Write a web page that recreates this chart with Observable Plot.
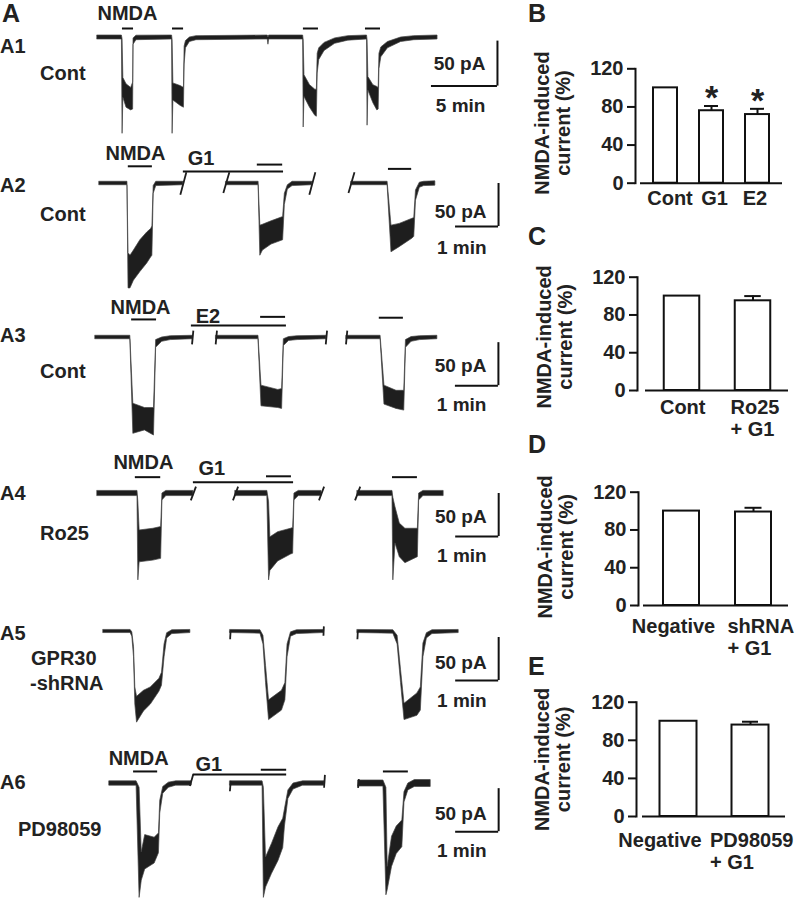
<!DOCTYPE html>
<html><head><meta charset="utf-8">
<script src="https://cdn.jsdelivr.net/npm/d3@7"></script>
<script src="https://cdn.jsdelivr.net/npm/@observablehq/plot@0.6"></script>
<style>
html,body{margin:0;padding:0;background:#fff;}
#fig{position:relative;width:795px;height:899px;overflow:hidden;font-family:"Liberation Sans",Arial,Helvetica,sans-serif;}
</style></head><body><div id="fig"></div>
<script>
// ================= DATA =================
// Traces: segments of [time (min), lower envelope (pA), upper envelope (pA)]
const a1Trace = [[
 [0,-2.2,2.2],[1.85,-2.2,2.2],[1.90,-107,-2],[1.96,-67,-45],[2.20,-78,-52],[2.55,-81,-56],[2.70,-80,-50],[2.73,-8,-1],[2.95,-3,2],
 [5.65,-2.2,2.2],[5.69,-107,-3],[5.75,-70,-51],[6.30,-76,-54],[6.55,-78,-56],[6.60,-30,-10],[6.70,-12,-4],[7.00,-5,0],[7.50,-3,1.5],
 [12.90,-2.2,2.2],[12.95,-8,0],[13.00,-2.2,2.2],
 [15.58,-2.2,2.2],[15.62,-100,-3],[15.68,-66,-42],[16.10,-78,-53],[16.50,-87,-58],[16.62,-88,-58],[16.68,-40,-18],[16.80,-25,-12],[17.20,-15,-6],[18.00,-7,-1],[19.00,-3.5,1.5],
 [20.42,-2.2,2.2],[20.46,-98,-3],[20.52,-59,-44],[20.90,-73,-53],[21.20,-81,-55],[21.30,-80,-56],[21.36,-35,-18],[21.50,-22,-11],[22.00,-12,-5],[23.00,-5,0],[24.00,-3,1.5],
 [25.76,-2.2,2.2]
]];
const a2Trace = [
 [[0,-2,2],[0.65,-2,2],[0.675,-122,-81],[0.72,-122,-84],[0.80,-113,-78],[0.95,-103,-66],[1.11,-93,-57],[1.20,-86,-53],[1.23,-84,-50],[1.26,-12,-3],[1.32,-3,2],[1.95,-2,2]],
 [[2.95,-2,2],[3.70,-2,2],[3.74,-84,-49],[3.80,-78,-48],[4.00,-71,-44],[4.27,-66,-39],[4.31,-25,-12],[4.38,-7,-2],[4.49,-3,2],[4.95,-2,2]],
 [[5.86,-2,2],[6.70,-2,2],[6.79,-80,-49],[6.98,-74,-47],[7.28,-64,-41],[7.32,-62,-40],[7.36,-20,-8],[7.45,-5,1],[7.55,-3,2],[7.81,-2.5,2.5]]
];
const a3Trace = [
 [[0,-2,2],[0.81,-2,2],[0.88,-112,-77],[1.15,-108,-82],[1.36,-114,-82],[1.41,-12,-3],[1.55,-5,0],[1.75,-3,1.5],[2.26,-2,2]],
 [[2.81,-2,2],[3.79,-2,2],[3.86,-80,-56],[4.25,-82,-61],[4.34,-83,-60],[4.38,-10,-2],[4.50,-4,0.5],[4.70,-3,1.5],[5.37,-2,2]],
 [[5.84,-2,2],[6.63,-2,2],[6.72,-78,-56],[7.00,-83,-62],[7.18,-85,-62],[7.22,-12,-3],[7.35,-5,0.5],[7.55,-3,1.5],[7.95,-2,2]]
];
const a4Trace = [
 [[0,-3,3],[0.93,-3,3],[0.95,-101,-10],[0.98,-80,-43],[1.30,-78,-41],[1.48,-76,-39],[1.51,-8,0],[1.60,-3,3],[2.23,-3,3]],
 [[3.21,-3,3],[3.95,-3,3],[3.99,-101,-10],[4.02,-90,-51],[4.20,-79,-45],[4.50,-71,-41],[4.55,-70,-40],[4.58,-8,0],[4.68,-3,3],[5.21,-3,3]],
 [[6.05,-3,3],[6.86,-3,3],[6.88,-101,-5],[6.93,-58,-16],[7.03,-74,-35],[7.16,-81,-41],[7.45,-74,-41],[7.48,-8,0],[7.58,-3,3],[8.05,-3,3]]
];
const a5Trace = [
 [[0,-1.8,1.8],[0.63,-1.8,1.8],[0.67,-6,-1],[0.71,-30,-18],[0.74,-85,-65],[0.78,-106,-76],[0.94,-93,-69],[1.10,-85,-65],[1.30,-70,-55],[1.36,-63,-48],[1.42,-30,-15],[1.48,-8,-2],[1.60,-3,1.5],[2.02,-1.8,1.8]],
 [[2.95,-1.8,1.8],[3.65,-2.5,1.5],[3.72,-15,-5],[3.78,-60,-40],[3.85,-103,-80],[4.15,-92,-69],[4.23,-80,-60],[4.28,-30,-15],[4.36,-6,-1],[4.50,-3,1.5],[5.12,-1.8,1.8]],
 [[5.91,-1.8,1.8],[6.74,-2.5,1.5],[6.84,-15,-5],[6.92,-60,-45],[7.00,-103,-84],[7.30,-98,-72],[7.38,-92,-65],[7.44,-30,-14],[7.52,-8,-2],[7.65,-3,1.5],[8.26,-1.8,1.8]]
];
const a6Trace = [
 [[0,-2.5,2.5],[0.63,-2.5,2.5],[0.70,-133,-5],[0.75,-113,-80],[0.83,-100,-60],[1.05,-93,-63],[1.15,-81,-58],[1.18,-35,-20],[1.25,-12,-4],[1.38,-5,1],[1.55,-2.5,2.5],[1.91,-2.5,2.5]],
 [[2.81,-2.5,2.5],[3.56,-2.5,2.5],[3.59,-133,-5],[3.64,-121,-86],[3.78,-105,-70],[3.93,-90,-51],[4.04,-75,-41],[4.08,-50,-30],[4.16,-18,-8],[4.28,-7,0],[4.50,-2.5,2.5],[5.00,-2.5,2.5]],
 [[5.79,-3.5,3.5],[6.37,-3.5,3.5],[6.44,-130,-5],[6.47,-124,-97],[6.57,-97,-62],[6.68,-82,-50],[6.81,-74,-43],[6.86,-22,-10],[6.95,-8,0],[7.10,-4,4],[7.47,-4,4]]
];

// Recording breaks: [time, pA start, pA end, half-width (min)]
const a2Breaks = [[1.95,-13,13,0.07],[2.95,-11,13,0.07],[4.95,-13,13,0.07],[5.86,-11,13,0.07]];
const a3Breaks = [[2.26,-8,8,0.015],[2.81,-8,8,0.015],[5.37,-8,8,0.015],[5.84,-8,8,0.015]];
const a4Breaks = [[2.23,-8,8,0.06],[3.21,-8,8,0.06],[5.21,-8,8,0.06],[6.05,-8,8,0.06]];
const a5Breaks = [[2.95,-9,1,0.005],[5.12,-5,6,0.005],[5.91,-9,1,0.005]];
const a6Breaks = [[1.91,-3,11,0.04],[2.81,-9,3,0.01],[5.00,-5,10,0.01],[5.79,-5,5,0.01]];

// Drug applications: [start (min), end (min), level (pA)]
const a1Drugs = [[1.89,2.73,10],[5.68,6.52,10],[15.6,16.74,10],[20.3,21.44,10]];
const a2Drugs = [[0.67,1.23,20],[3.67,4.26,22],[6.72,7.26,17],[1.95,4.28,14]];
const a3Drugs = [[0.84,1.42,21],[3.84,4.42,24],[6.60,7.16,23],[2.23,4.44,14]];
const a4Drugs = [[0.88,1.47,19],[3.93,4.51,20],[6.86,7.44,19],[2.23,4.56,13]];
const a5Drugs = [];
const a6Drugs = [[0.56,1.12,14],[3.53,4.12,16],[6.37,6.95,14],[1.95,4.12,10.5]];
// Drug labels: [text, time, level]
const a1DrugLabels = [["NMDA",0,19]];
const a2DrugLabels = [["NMDA",0.14,27],["G1",2.05,21]];
const a3DrugLabels = [["NMDA",0.35,27],["E2",2.33,17]];
const a4DrugLabels = [["NMDA",0.37,28],["G1",2.35,21]];
const a5DrugLabels = [];
const a6DrugLabels = [["NMDA",-0.02,21],["G1",2.0,14]];

// Scale bars: [pA, min]
const a1Scale = [50,5];
const a2Scale = [50,1], a3Scale = [50,1], a4Scale = [50,1], a5Scale = [50,1], a6Scale = [50,1];

// Bar charts: NMDA-induced current (% of control)
const bCats = ["Cont","G1","E2"], bMeans = [100,76,72], bSem = [0,5,6], bSig = ["","*","*"];
const cCats = ["Cont","Ro25\n+ G1"], cMeans = [100,95], cSem = [0,5], cSig = ["",""];
const dCats = ["Negative","shRNA\n+ G1"], dMeans = [100,99], dSem = [0,4.5], dSig = ["",""];
const eCats = ["Negative","PD98059\n+ G1"], eMeans = [100,96], eSem = [0,3.5], eSig = ["",""];
const yTicks = [0,40,80,120];

// ================= LAYOUT =================
const FONT = '"Liberation Sans", Arial, Helvetica, sans-serif';
const fig = document.getElementById("fig");
function place(el, left, top){ el.style.position="absolute"; el.style.left=left+"px"; el.style.top=top+"px"; fig.appendChild(el); }
const INK = "#1e1e1e";

const traceRows = [
 {trace:a1Trace, breaks:[], drugs:a1Drugs, labels:a1DrugLabels, scale:a1Scale,
  L:{top:0,height:140,baseline:37,x0:97,ppm:13.2,ppa:0.9,sbT:30.3,sbTop:-4,dy1:-16,dy2:26}},
 {trace:a2Trace, breaks:a2Breaks, drugs:a2Drugs, labels:a2DrugLabels, scale:a2Scale,
  L:{top:140,height:150,baseline:183,x0:99,ppm:43,ppa:0.86,sbT:9.28,sbTop:0,dy1:-9,dy2:27}},
 {trace:a3Trace, breaks:a3Breaks, drugs:a3Drugs, labels:a3DrugLabels, scale:a3Scale,
  L:{top:290,height:150,baseline:337,x0:95,ppm:43,ppa:0.86,sbT:9.37,sbTop:-6,dy1:-14,dy2:25}},
 {trace:a4Trace, breaks:a4Breaks, drugs:a4Drugs, labels:a4DrugLabels, scale:a4Scale,
  L:{top:440,height:150,baseline:493,x0:97,ppm:43,ppa:0.86,sbT:9.33,sbTop:0,dy1:-14,dy2:25}},
 {trace:a5Trace, breaks:a5Breaks, drugs:a5Drugs, labels:a5DrugLabels, scale:a5Scale,
  L:{top:590,height:150,baseline:631,x0:103,ppm:43,ppa:0.86,sbT:9.19,sbTop:-7,dy1:-12,dy2:26}},
 {trace:a6Trace, breaks:a6Breaks, drugs:a6Drugs, labels:a6DrugLabels, scale:a6Scale,
  L:{top:740,height:159,baseline:783,x0:109,ppm:43,ppa:0.86,sbT:9.05,sbTop:-6,dy1:-12,dy2:25}}
];

function tracePlot(row){
  const L = row.L, W = 420, left = 90;
  const pts = row.trace.flatMap((seg,i)=>seg.map(([t,lo,hi])=>({seg:i,t,lo,hi})));
  const sb = {t:L.sbT, top:L.sbTop, pA:row.scale[0], min:row.scale[1]};
  const drugs = row.drugs.map(([t1,t2,level])=>({t1,t2,level}));
  const labels = row.labels.map(([text,t,level])=>({text,t,level}));
  const breaks = row.breaks.map(([t,a,b,w])=>({t,a,b,w}));
  const p = Plot.plot({
    width:W, height:L.height, margin:0,
    style:{fontFamily:FONT, background:"transparent", overflow:"visible"},
    x:{domain:[(left-L.x0)/L.ppm,(left+W-L.x0)/L.ppm], range:[0,W], axis:null},
    y:{domain:[-(L.top+L.height-L.baseline)/L.ppa,(L.baseline-L.top)/L.ppa], range:[L.height,0], axis:null},
    marks:[
      Plot.areaY(pts,{x:"t",y1:"lo",y2:"hi",z:"seg",fill:INK,stroke:"#444",strokeWidth:0.7}),
      Plot.link(breaks,{x1:d=>d.t-d.w,y1:"a",x2:d=>d.t+d.w,y2:"b",stroke:INK,strokeWidth:1.8}),
      Plot.ruleY(drugs,{x1:"t1",x2:"t2",y:"level",stroke:"#111",strokeWidth:2}),
      Plot.text(labels,{x:"t",y:"level",text:"text",textAnchor:"start",lineAnchor:"bottom",fontSize:20,fontWeight:"bold",fill:"#222"}),
      Plot.ruleX([sb],{x:"t",y1:"top",y2:d=>d.top-d.pA,stroke:"#111",strokeWidth:2}),
      Plot.ruleY([sb],{y:d=>d.top-d.pA,x1:d=>d.t-d.min,x2:"t",stroke:"#111",strokeWidth:2}),
      Plot.text([sb],{x:"t",y:d=>d.top-d.pA,text:d=>`${d.pA} pA`,textAnchor:"end",lineAnchor:"bottom",dx:-12,dy:L.dy1,fontSize:19,fontWeight:"bold",fill:"#222"}),
      Plot.text([sb],{x:"t",y:d=>d.top-d.pA,text:d=>`${d.min} min`,textAnchor:"end",lineAnchor:"bottom",dx:-12,dy:L.dy2,fontSize:19,fontWeight:"bold",fill:"#222"})
    ]
  });
  place(p, left, L.top);
}
traceRows.forEach(tracePlot);

const barCharts = [
 {cats:bCats, means:bMeans, sem:bSem, sig:bSig,
  L:{top:40,height:200,axisX:635,y0:182.7,y120:68.3,xStart:640,xEnd:782,bandStart:642,step:46,barW:24,capW:14,labelGap:5.7,yLabelX:552,yLabelDy:-3,
     labelDx:[4.5,3,-2.5], labelAnchor:["middle","middle","middle"]}},
 {cats:cCats, means:cMeans, sem:cSem, sig:cSig,
  L:{top:250,height:200,axisX:637,y0:390,y120:276.7,xStart:645,xEnd:788,bandStart:645.25,step:71.5,barW:36,capW:17,labelGap:8.3,yLabelX:554,yLabelDy:3,
     labelDx:[0.7,-22.5], labelAnchor:["middle","start"]}},
 {cats:dCats, means:dMeans, sem:dSem, sig:dSig,
  L:{top:460,height:200,axisX:638,y0:605,y120:491.7,xStart:643,xEnd:788,bandStart:645,step:72,barW:36,capW:17,labelGap:11.7,yLabelX:555,yLabelDy:-2,
     labelDx:[-8,-26], labelAnchor:["middle","start"]}},
 {cats:eCats, means:eMeans, sem:eSem, sig:eSig,
  L:{top:680,height:210,axisX:636,y0:816,y120:701.7,xStart:642,xEnd:785,bandStart:641.5,step:72,barW:37,capW:16,labelGap:14.7,yLabelX:552,yLabelDy:0,
     labelDx:[-18.5,-40.5], labelAnchor:["middle","start"]}}
];

function barPlot(bc){
  const L = bc.L, left = 500, W = 295;
  const data = bc.cats.map((cat,i)=>({cat, mean:bc.means[i], sem:bc.sem[i], sig:bc.sig[i], i}));
  const err = data.filter(d=>d.sem>0);
  const bi = (L.step-L.barW)/2, ci = (L.step-L.capW)/2;
  const b0 = L.bandStart-left;
  const labelMarks = data.map(d=>Plot.text([d],{x:"cat",text:"cat",frameAnchor:"bottom",lineAnchor:"top",
      textAnchor:L.labelAnchor[d.i],dx:L.labelDx[d.i],dy:L.labelGap,fontSize:20,fontWeight:"bold",lineHeight:1.1,fill:"#222"}));
  const p = Plot.plot({
    width:W, height:L.height,
    marginLeft:L.axisX-left, marginRight:left+W-L.xEnd, marginTop:L.y120-L.top, marginBottom:L.top+L.height-L.y0,
    style:{fontFamily:FONT, background:"transparent", overflow:"visible"},
    x:{type:"band", domain:bc.cats, range:[b0, b0+L.step*bc.cats.length], padding:0, axis:null},
    y:{domain:[0,120], axis:null},
    marks:[
      Plot.barY(data,{x:"cat",y:"mean",fill:"white",stroke:"#111",strokeWidth:2,insetLeft:bi,insetRight:bi}),
      Plot.ruleX(err,{x:"cat",y1:"mean",y2:d=>d.mean+d.sem,stroke:"#111",strokeWidth:2}),
      Plot.tickY(err,{x:"cat",y:d=>d.mean+d.sem,stroke:"#111",strokeWidth:2,insetLeft:ci,insetRight:ci}),
      Plot.text(data.filter(d=>d.sig),{x:"cat",y:d=>d.mean+d.sem,text:"sig",lineAnchor:"bottom",dy:3,fontSize:34,fontWeight:"bold",fill:"#222"}),
      Plot.frame({anchor:"left",stroke:"#111",strokeWidth:2}),
      Plot.ruleY([0],{insetLeft:L.xStart-L.axisX,stroke:"#111",strokeWidth:2}),
      Plot.axisY({ticks:yTicks,tickSize:8,tickPadding:4,strokeWidth:2,stroke:"#111",label:null,fontSize:20,fontWeight:"bold",fill:"#222",tickFormat:d=>String(d)}),
      ...labelMarks,
      Plot.text(["NMDA-induced\ncurrent (%)"],{frameAnchor:"left",textAnchor:"middle",rotate:-90,dx:L.yLabelX-L.axisX,dy:L.yLabelDy,fontSize:20,fontWeight:"bold",lineHeight:1.05,fill:"#222"})
    ]
  });
  place(p, left, L.top);
}
barCharts.forEach(barPlot);

// Panel and row labels
const panelLabels = [
 ["A",2,22,25],["B",528,22,25],["C",528,245,25],["D",528,453,25],["E",528,675,25],
 ["A1",0,53,20],["Cont",40,80,20],
 ["A2",0,192,20],["Cont",40,221,20],
 ["A3",0,342,20],["Cont",40,378,20],
 ["A4",0,500,20],["Ro25",40,540,20],
 ["A5",0,640,20],["GPR30",31,665,20],["-shRNA",30,690,20],
 ["A6",0,789,20],["PD98059",18,836,20]
];
const ov = d3.create("svg").attr("width",795).attr("height",899)
  .style("position","absolute").style("left","0px").style("top","0px").style("pointer-events","none");
ov.selectAll("text").data(panelLabels).join("text")
  .attr("x",d=>d[1]).attr("y",d=>d[2]).attr("font-size",d=>d[3]).attr("font-weight","bold")
  .attr("font-family",FONT).attr("fill","#222").text(d=>d[0]);
fig.appendChild(ov.node());
</script></body></html>
